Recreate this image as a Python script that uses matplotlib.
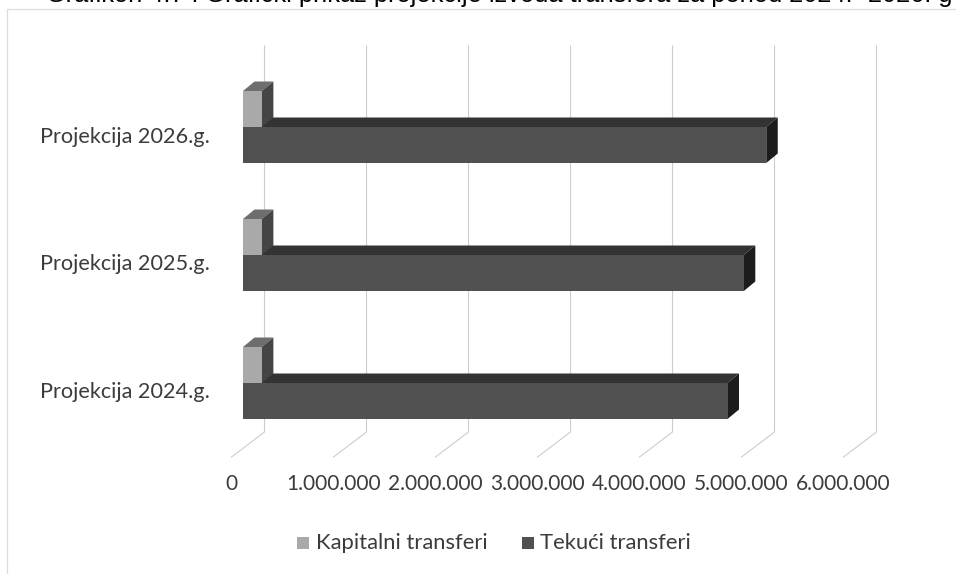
import numpy as np
import matplotlib
matplotlib.use("Agg")
import matplotlib.pyplot as plt
from matplotlib.lines import Line2D
from matplotlib.patches import Polygon, Rectangle

# values
categories = ['Projekcija 2024.g.', 'Projekcija 2025.g.', 'Projekcija 2026.g.']
kapitalni = [185000, 185000, 185000]
tekuci = [4750000, 4910000, 5130000]
x_ticks = [0, 1000000, 2000000, 3000000, 4000000, 5000000, 6000000]
x_tick_labels = ['0', '1.000.000', '2.000.000', '3.000.000', '4.000.000', '5.000.000', '6.000.000']
title = 'Grafikon 4.7 : Grafički prikaz projekcije izvoda transfera za period 2024.- 2026. g'

W, H = 956, 574
PX_PER_MIL = 102.0
PX_PER_CAT = 128.0
X0_PX = 243.0
Y0_PX = 383.0     # pixel row of the boundary between the two bars of 2024


def main():
    fig = plt.figure(figsize=(W / 100, H / 100), dpi=100)
    ax = fig.add_axes([0, 0, 1, 1])
    # data limits chosen so one million = PX_PER_MIL px and one category = PX_PER_CAT px
    ax.set_xlim(-X0_PX / PX_PER_MIL * 1e6, (W - X0_PX) / PX_PER_MIL * 1e6)
    ax.set_ylim((Y0_PX - H) / PX_PER_CAT, Y0_PX / PX_PER_CAT)
    ax.axis('off')

    # 3d look, offsets in data units
    dx = 11.5 / PX_PER_MIL * 1e6
    dy = 9.5 / PX_PER_CAT
    bar_h = 36 / PX_PER_CAT
    grid_top = (Y0_PX - 46) / PX_PER_CAT
    grid_bot = (Y0_PX - 432) / PX_PER_CAT
    grid_front = (Y0_PX - 457) / PX_PER_CAT
    grid_dx = 33 / PX_PER_MIL * 1e6
    grid_off = 21.5 / PX_PER_MIL * 1e6

    # chart frame, only top and left survive the scan
    frame_x = [7 / W, 7 / W, 1]
    frame_y = [0, 1 - 9 / H, 1 - 9 / H]
    fig.add_artist(Line2D(frame_x, frame_y, color='#dddddd', lw=0.9))

    for t in x_ticks:
        xb = t + grid_off
        ax.plot([xb, xb, xb - grid_dx], [grid_top, grid_bot, grid_front], color='#cccccc', lw=0.8, zorder=1)

    def bar3d(v, y0, front, top, side, z):
        ax.add_patch(Polygon([(0, y0 + bar_h), (dx, y0 + bar_h + dy), (v + dx, y0 + bar_h + dy), (v, y0 + bar_h)], fc=top, ec='none', zorder=z))
        ax.add_patch(Polygon([(v, y0), (v + dx, y0 + dy), (v + dx, y0 + bar_h + dy), (v, y0 + bar_h)], fc=side, ec='none', zorder=z))
        ax.barh(y0, v, height=bar_h, align='edge', color=front, zorder=z + 0.1)

    for i in range(len(categories)):
        bar3d(tekuci[i], i - bar_h, '#505050', '#333333', '#1c1c1c', 2)
        bar3d(kapitalni[i], i, '#a9a9a9', '#6e6e6e', '#454545', 3)

    text_c = '#3c3c3c'
    for i, c in enumerate(categories):
        fig.text(124.5 / W, 1 - (392 - 127.5 * i) / H, c, ha='center', va='center', fontsize=15.6, family='Lato', color=text_c)

    for t, lab in zip(x_ticks, x_tick_labels):
        ax.text(t + grid_off - grid_dx, (Y0_PX - 484) / PX_PER_CAT, lab, ha='center', va='center', fontsize=15,
                family='Lato', color=text_c)

    # legend
    fig.add_artist(Rectangle((297 / W, 1 - 549 / H), 12 / W, 12 / H, transform=fig.transFigure, fc='#a9a9a9', ec='none'))
    fig.text(316 / W, 1 - 543 / H, 'Kapitalni transferi', ha='left', va='center', fontsize=15.8, family='Lato', color=text_c)
    fig.add_artist(Rectangle((522 / W, 1 - 549 / H), 12 / W, 12 / H, transform=fig.transFigure, fc='#505050', ec='none'))
    fig.text(540 / W, 1 - 543 / H, 'Tekući transferi', ha='left', va='center', fontsize=15.8, family='Lato', color=text_c)

    # the scan cuts the title off at the top edge
    fig.text(952 / W, 1 - 2 / H, title, ha='right', va='baseline', fontsize=18.3, family='Liberation Sans', color='black')

    fig.savefig('out.png', dpi=100)


if __name__ == "__main__":
    main()
